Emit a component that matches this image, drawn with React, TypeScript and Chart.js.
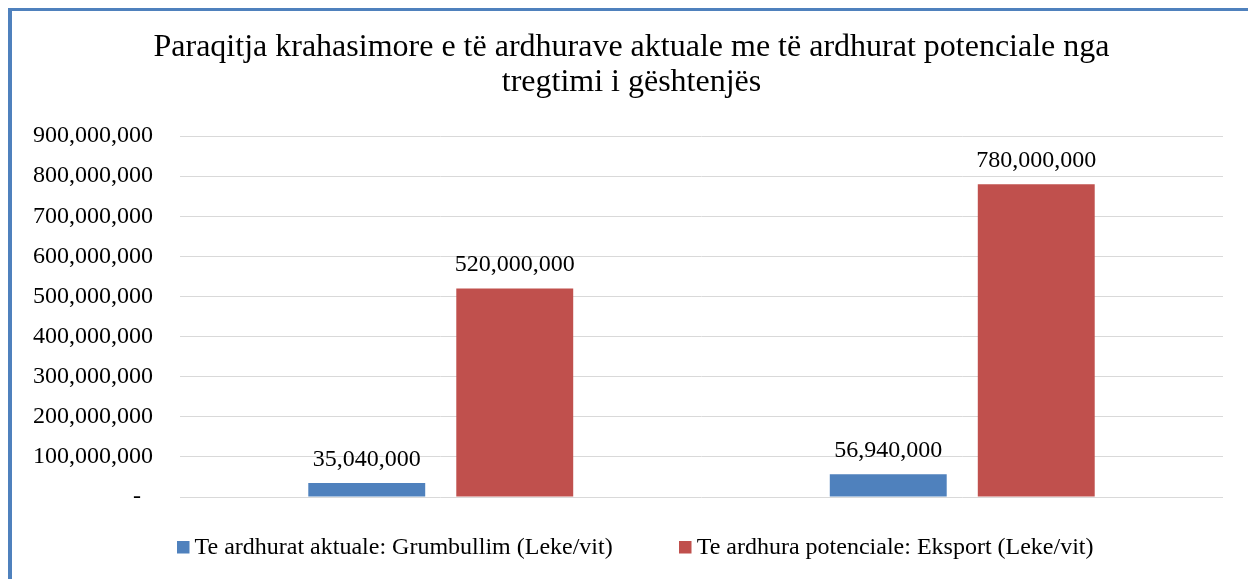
import React, { useEffect, useRef } from "react";
import { Chart, registerables } from "chart.js";

Chart.register(...registerables);

const categories = ["", ""];
const seriesLabels = [
  "Te ardhurat aktuale: Grumbullim (Leke/vit)",
  "Te ardhura potenciale: Eksport (Leke/vit)",
];
const actualValues = [35040000, 56940000];
const potentialValues = [520000000, 780000000];
const titleLines = [
  "Paraqitja krahasimore e të ardhurave aktuale me të ardhurat potenciale nga",
  "tregtimi i gështenjës",
];
const yMin = 0;
const yMax = 900000000;
const yStep = 100000000;

const FONT = '"Liberation Serif", "Times New Roman", serif';
const BLUE = "#4f81bd";
const RED = "#c0504d";
const GRID = "#d9d9d9";

const fmt = (v: number) => v.toLocaleString("en-US");

const dataLabelPlugin = {
  id: "dataLabels",
  afterDatasetsDraw(chart: any) {
    const ctx = chart.ctx;
    ctx.save();
    ctx.font = `24px ${FONT}`;
    ctx.fillStyle = "#000";
    ctx.textAlign = "center";
    ctx.textBaseline = "alphabetic";
    chart.data.datasets.forEach((ds: any, i: number) => {
      const meta = chart.getDatasetMeta(i);
      meta.data.forEach((bar: any, j: number) => {
        ctx.fillText(fmt(ds.data[j]), bar.x, bar.y - 17);
      });
    });
    ctx.restore();
  },
};

// widen the y-axis label clip area so long tick labels are not cut
const unclipYLabels = {
  id: "unclipYLabels",
  afterLayout(chart: any) {
    if (chart.scales.y) chart.scales.y.left = 0;
  },
};

const customLegendPlugin = {
  id: "customLegend",
  afterDraw(chart: any) {
    const ctx = chart.ctx;
    const box = 12.5;
    const boxGap = 5.5;
    const itemGap = 66;
    const centerX = 635;
    const baseline = 553.5;
    ctx.save();
    ctx.font = `24px ${FONT}`;
    ctx.textBaseline = "alphabetic";
    ctx.textAlign = "left";
    const ds = chart.data.datasets;
    const widths = ds.map((d: any) => ctx.measureText(d.label).width);
    let total = 0;
    widths.forEach((w: number, i: number) => {
      total += box + boxGap + w + (i > 0 ? itemGap : 0);
    });
    let x = centerX - total / 2;
    ds.forEach((d: any, i: number) => {
      ctx.fillStyle = d.backgroundColor;
      ctx.fillRect(Math.round(x), 541, box, box);
      x += box + boxGap;
      ctx.fillStyle = "#000";
      ctx.fillText(d.label, x, baseline);
      x += widths[i] + itemGap;
    });
    ctx.restore();
  },
};

export default function App() {
  const canvasRef = useRef<HTMLCanvasElement | null>(null);

  useEffect(() => {
    if (!canvasRef.current) return;
    const chart = new Chart(canvasRef.current, {
      type: "bar",
      data: {
        labels: categories,
        datasets: [
          {
            label: seriesLabels[0],
            data: actualValues,
            backgroundColor: BLUE,
            categoryPercentage: 0.5676,
            barPercentage: 0.79,
          },
          {
            label: seriesLabels[1],
            data: potentialValues,
            backgroundColor: RED,
            categoryPercentage: 0.5676,
            barPercentage: 0.79,
          },
        ],
      },
      options: {
        responsive: true,
        maintainAspectRatio: false,
        animation: false,
        layout: { padding: { left: 40, right: 25, top: 0, bottom: 82 } },
        plugins: {
          legend: { display: false },
          tooltip: { enabled: false },
          title: {
            display: true,
            text: titleLines,
            color: "#000",
            font: { family: FONT, size: 32, weight: "normal", lineHeight: 1.094 },
            padding: { top: 30, bottom: 36 },
          },
        },
        scales: {
          x: { display: false },
          y: {
            min: yMin,
            max: yMax,
            border: { display: false },
            grid: { color: GRID, drawTicks: false, lineWidth: 1 },
            ticks: {
              stepSize: yStep,
              padding: 27,
              color: "#000",
              font: { family: FONT, size: 24 },
              callback: (v: any) => (Number(v) === 0 ? "-\u2007" : fmt(Number(v))),
            },
            afterFit: (scale: any) => {
              scale.width = 140;
            },
          },
        },
      },
      plugins: [unclipYLabels, dataLabelPlugin, customLegendPlugin],
    });
    return () => chart.destroy();
  }, []);

  return (
    <>
      <div
        style={{
          position: "fixed",
          left: 8,
          top: 8,
          width: 1240,
          height: 571,
          borderTop: `3px solid ${BLUE}`,
          borderLeft: `4px solid ${BLUE}`,
          boxSizing: "border-box",
          background: "#fff",
        }}
      />
      <div style={{ position: "fixed", left: 0, top: 0, width: 1248, height: 579 }}>
        <canvas ref={canvasRef} />
      </div>
    </>
  );
}
